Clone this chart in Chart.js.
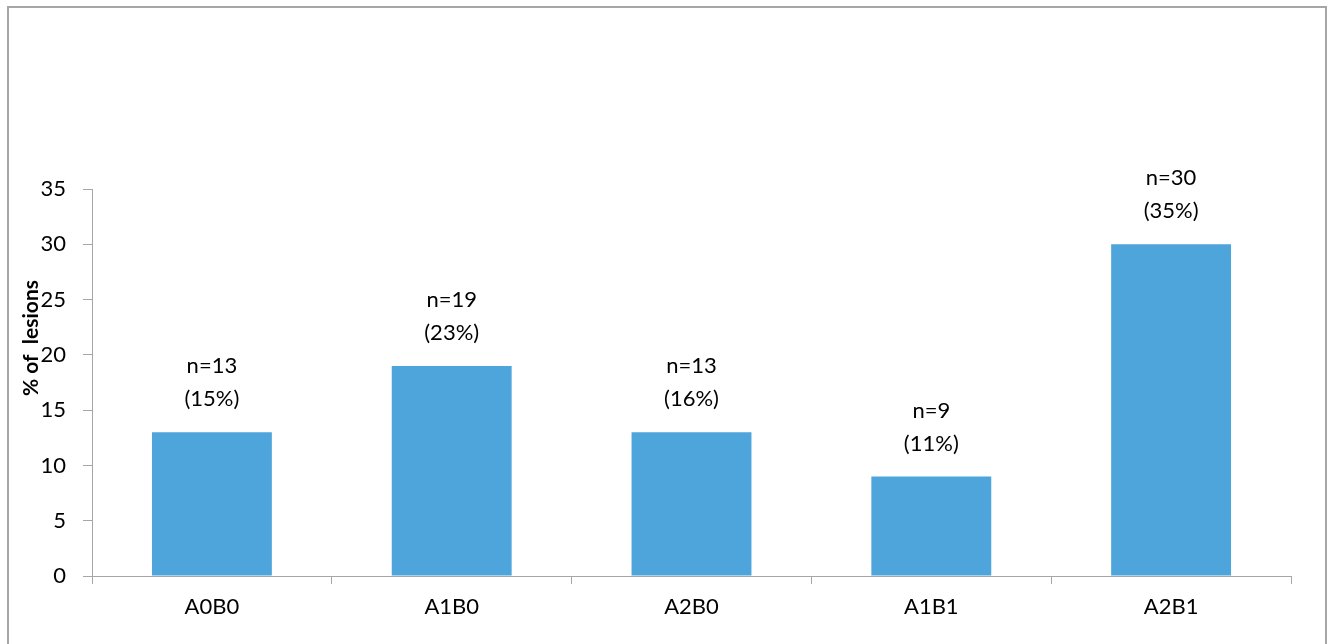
<!DOCTYPE html>
<html>
<head>
<meta charset="utf-8">
<script src="https://cdn.jsdelivr.net/npm/chart.js@4/dist/chart.umd.min.js"></script>
<style>
  html, body { margin: 0; padding: 0; background: #ffffff; overflow: hidden; }
  #wrap { position: relative; width: 1337px; height: 644px; }
  #frame {
    position: absolute; left: 7px; top: 6px; width: 1320px; height: 660px;
    border: 2px solid #a6a6a6; box-sizing: border-box; pointer-events: none;
  }
  canvas { position: absolute; left: 0; top: 0; }
</style>
</head>
<body>
<div id="wrap">
  <canvas id="chart" width="1337" height="644"></canvas>
  <div id="frame"></div>
</div>
<script>
// Lesion groups on the x axis
const categories = ['A0B0', 'A1B0', 'A2B0', 'A1B1', 'A2B1'];
// Number of lesions per group (bar heights and the "n=" labels)
const lesionCounts = [13, 19, 13, 9, 30];
// Share of all lesions per group, in percent
const lesionShares = [15, 23, 16, 11, 35];
// Y axis range and step
const yMin = 0;
const yMax = 35;
const yStep = 5;
const yTitle = '% of  lesions';

const FONT = 'Lato, "Liberation Sans", sans-serif';
const AXIS_GREY = '#a6a6a6';

Chart.defaults.font.family = FONT;
Chart.defaults.color = '#000000';

// Two-line value labels above each bar: "n=…" and "(…%)"
const barLabels = {
  id: 'barLabels',
  afterDatasetsDraw(chart) {
    const ctx = chart.ctx;
    const meta = chart.getDatasetMeta(0);
    ctx.save();
    ctx.font = '22px ' + FONT;
    ctx.fillStyle = '#000000';
    ctx.textAlign = 'center';
    ctx.textBaseline = 'middle';
    meta.data.forEach((bar, i) => {
      ctx.fillText('(' + lesionShares[i] + '%)', bar.x, bar.y - 33);
      ctx.fillText('n=' + lesionCounts[i], bar.x, bar.y - 66);
    });
    ctx.restore();
  }
};

// Rotated y axis title
const axisTitle = {
  id: 'axisTitle',
  afterDraw(chart) {
    const ctx = chart.ctx;
    ctx.save();
    ctx.translate(31, 338);
    ctx.rotate(-Math.PI / 2);
    ctx.font = 'bold 21px ' + FONT;
    ctx.fillStyle = '#000000';
    ctx.textAlign = 'center';
    ctx.textBaseline = 'middle';
    ctx.fillText(yTitle, 0, 0);
    ctx.restore();
  }
};

new Chart(document.getElementById('chart'), {
  type: 'bar',
  data: {
    labels: categories,
    datasets: [{
      data: lesionCounts,
      backgroundColor: '#4ea5dc',
      borderWidth: 0,
      categoryPercentage: 0.5,
      barPercentage: 1.0
    }]
  },
  options: {
    responsive: false,
    animation: false,
    layout: { padding: { top: 189, right: 46, left: 0, bottom: 0 } },
    plugins: {
      legend: { display: false },
      tooltip: { enabled: false }
    },
    scales: {
      x: {
        afterFit(scale) { scale.height = 68; },
        grid: {
          display: true,
          offset: true,
          drawOnChartArea: false,
          drawTicks: true,
          tickLength: 8,
          color: AXIS_GREY,
          lineWidth: 1
        },
        border: { display: true, color: AXIS_GREY, width: 1 },
        ticks: {
          font: { size: 22 },
          color: '#000000',
          padding: 10
        }
      },
      y: {
        min: yMin,
        max: yMax,
        afterFit(scale) { scale.width = 92; },
        grid: {
          display: true,
          drawOnChartArea: false,
          drawTicks: true,
          tickLength: 9,
          color: AXIS_GREY,
          lineWidth: 1
        },
        border: { display: true, color: AXIS_GREY, width: 1 },
        ticks: {
          stepSize: yStep,
          font: { size: 22 },
          color: '#000000',
          padding: 17
        }
      }
    }
  },
  plugins: [barLabels, axisTitle]
});
</script>
</body>
</html>
